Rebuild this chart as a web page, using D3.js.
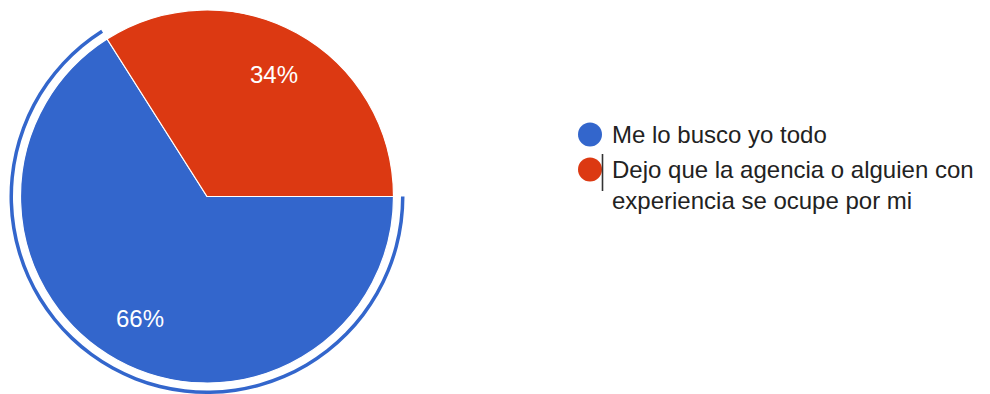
<!DOCTYPE html>
<html>
<head>
<meta charset="utf-8">
<script src="https://cdn.jsdelivr.net/npm/d3@7"></script>
<style>
  html, body { margin: 0; padding: 0; background: #ffffff; }
  svg { display: block; font-family: Arial, "Liberation Sans", sans-serif; }
</style>
</head>
<body>
<svg id="chart" width="990" height="394"></svg>
<script>
// Survey answers and their shares (percent)
const categories = ["Me lo busco yo todo", "Dejo que la agencia o alguien con experiencia se ocupe por mi"];
const values = [66, 34];
const palette = ["#3366cc", "#dc3912"];
const selectedIndex = 0;

const svg = d3.select("#chart");
const W = 990, H = 394;
const cx = 207, cy = 196.5, R = 186.5;

const pie = d3.pie()
  .sort(null)
  .value(d => d)
  .startAngle(Math.PI / 2)
  .endAngle(Math.PI / 2 + 2 * Math.PI);
const arcs = pie(values);

const color = d3.scaleOrdinal().domain(d3.range(values.length)).range(palette);
const total = d3.sum(values);
const pct = d3.format(".0%");

const arc = d3.arc().innerRadius(0).outerRadius(R);
const labelArc = d3.arc().innerRadius(139).outerRadius(139);
const ringArc = d3.arc().innerRadius(194).outerRadius(197.5);

const g = svg.append("g").attr("transform", `translate(${cx},${cy})`);

g.selectAll("path.slice")
  .data(arcs)
  .join("path")
  .attr("class", "slice")
  .attr("d", arc)
  .attr("fill", (d, i) => color(i))
  .attr("stroke", "#ffffff")
  .attr("stroke-width", 1.2);

// Selection ring around the highlighted slice
g.append("path")
  .attr("d", ringArc(arcs[selectedIndex]))
  .attr("fill", color(selectedIndex));

g.selectAll("text.pct")
  .data(arcs)
  .join("text")
  .attr("class", "pct")
  .attr("transform", d => `translate(${labelArc.centroid(d)})`)
  .attr("text-anchor", "middle")
  .attr("dy", "0.36em")
  .attr("font-size", 24)
  .attr("fill", "#ffffff")
  .text(d => pct(d.value / total));

// Legend
const legend = svg.append("g").attr("transform", "translate(590,0)");
const itemTop = [143, 178];
const lineGap = 31;
const maxTextWidth = 376;

categories.forEach((label, i) => {
  const item = legend.append("g");
  item.append("circle")
    .attr("cx", 0)
    .attr("cy", itemTop[i] - 8.5)
    .attr("r", 12)
    .attr("fill", color(i));

  const text = item.append("text")
    .attr("x", 22)
    .attr("y", itemTop[i])
    .attr("font-size", 24)
    .attr("fill", "#222222");

  // wrap words onto lines that fit the legend width
  const words = label.split(" ");
  let line = [];
  let lineNo = 0;
  let tspan = text.append("tspan").attr("x", 22).attr("y", itemTop[i]);
  words.forEach(w => {
    line.push(w);
    tspan.text(line.join(" "));
    if (tspan.node().getComputedTextLength() > maxTextWidth && line.length > 1) {
      line.pop();
      tspan.text(line.join(" "));
      line = [w];
      lineNo += 1;
      tspan = text.append("tspan")
        .attr("x", 22)
        .attr("y", itemTop[i] + lineNo * lineGap)
        .text(w);
    }
  });
});

// Text cursor beside the focused legend entry
legend.append("line")
  .attr("x1", 12.5).attr("x2", 12.5)
  .attr("y1", 154).attr("y2", 191)
  .attr("stroke", "#333333")
  .attr("stroke-width", 1.6);
</script>
</body>
</html>
